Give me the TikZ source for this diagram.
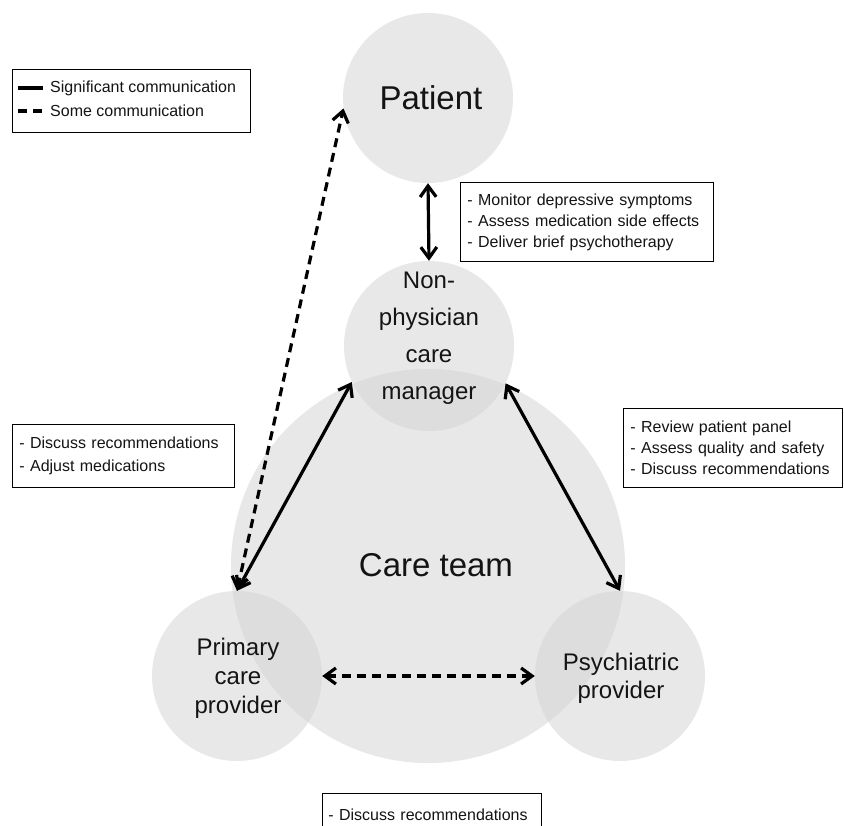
\documentclass[tikz,border=0pt]{standalone}
\usepackage{fontspec}
\setmainfont{Liberation Sans}
\usetikzlibrary{arrows.meta}
\definecolor{circfill}{RGB}{211,211,211}
\definecolor{txt}{RGB}{20,20,20}
\begin{document}
\begin{tikzpicture}[x=1pt,y=-1pt,
  circ/.style={circle, fill=circfill, fill opacity=0.52, draw=none, inner sep=0pt},
  bigtxt/.style={font=\fontsize{33}{38}\selectfont, text=txt},
  midtxt/.style={text=txt, align=center},
  boxtxt/.style={draw=black, line width=0.9pt, fill=white, anchor=north west, align=left, inner xsep=7pt, inner ysep=0pt, text=txt},
  legtxt/.style={anchor=west, inner sep=0pt, text=txt, font=\fontsize{16}{20}\selectfont},
  sig/.style={line width=3.2pt, draw=black, {Straight Barb[length=11pt,width=16pt]}-{Straight Barb[length=11pt,width=16pt]}},
  some/.style={sig, dash pattern=on 9pt off 6pt},
]
\clip (0,0) rectangle (844,826);
\fill[white] (0,0) rectangle (844,826);

% circles
\node[circ, minimum size=394pt] (team) at (428,566) {};
\node[circ, minimum size=170pt] (pat) at (428,98) {};
\node[circ, minimum size=170pt] (ncm) at (429,346) {};
\node[circ, minimum size=170pt] (pcp) at (237,676) {};
\node[circ, minimum size=170pt] (psy) at (620,676) {};

% circle labels
\node[bigtxt] (patT) at (431,98) {Patient};
\node[bigtxt] (teamT) at (436,565) {Care team};
\node[midtxt, font=\fontsize{24}{37}\selectfont] (ncmT) at (429,338) {Non-\\physician\\care\\manager};
\node[midtxt, font=\fontsize{24}{29}\selectfont] (pcpT) at (238,678) {Primary\\care\\provider};
\node[midtxt, font=\fontsize{24}{28}\selectfont] (psyT) at (621,678) {Psychiatric\\provider};

% connectors
\draw[sig] (pat.south) -- (ncm.north);
\draw[sig] (ncm.205.7) -- (pcp.north);
\draw[sig] (ncm.334) -- (psy.north);
\draw[some] (pcp.north) -- (pat.187);
\draw[some] (pcp.east) -- (psy.west);

% legend
\node[draw=black, line width=0.9pt, fill=white, anchor=north west, minimum width=238pt, minimum height=63pt, inner sep=0pt] (legend) at (12,69) {};
\coordinate (l1a) at (18,88);
\coordinate (l1b) at (43,88);
\coordinate (l2a) at (18,111);
\coordinate (l2b) at (43,111);
\draw[line width=3.2pt] (l1a) -- (l1b);
\draw[line width=3.2pt, dash pattern=on 9pt off 6pt] (l2a) -- (l2b);
\node[legtxt] (leg1) at (50,88) {Significant communication};
\node[legtxt] (leg2) at (50,111) {Some communication};

% info boxes
\node[boxtxt, minimum height=79pt, text width=239pt, font=\fontsize{16}{21}\selectfont] (boxA) at (460,182)
  {- Monitor depressive symptoms\\- Assess medication side effects\\- Deliver brief psychotherapy};
\node[boxtxt, minimum height=63pt, text width=208pt, font=\fontsize{16}{23}\selectfont] (boxB) at (12,424)
  {- Discuss recommendations\\- Adjust medications};
\node[boxtxt, minimum height=79pt, text width=205pt, font=\fontsize{16}{21}\selectfont] (boxC) at (623,408)
  {- Review patient panel\\- Assess quality and safety\\- Discuss recommendations};
\node[boxtxt, minimum height=42pt, text width=207pt, font=\fontsize{16}{21}\selectfont, inner xsep=6pt] (boxD) at (322,793)
  {- Discuss recommendations};
\end{tikzpicture}
\end{document}
